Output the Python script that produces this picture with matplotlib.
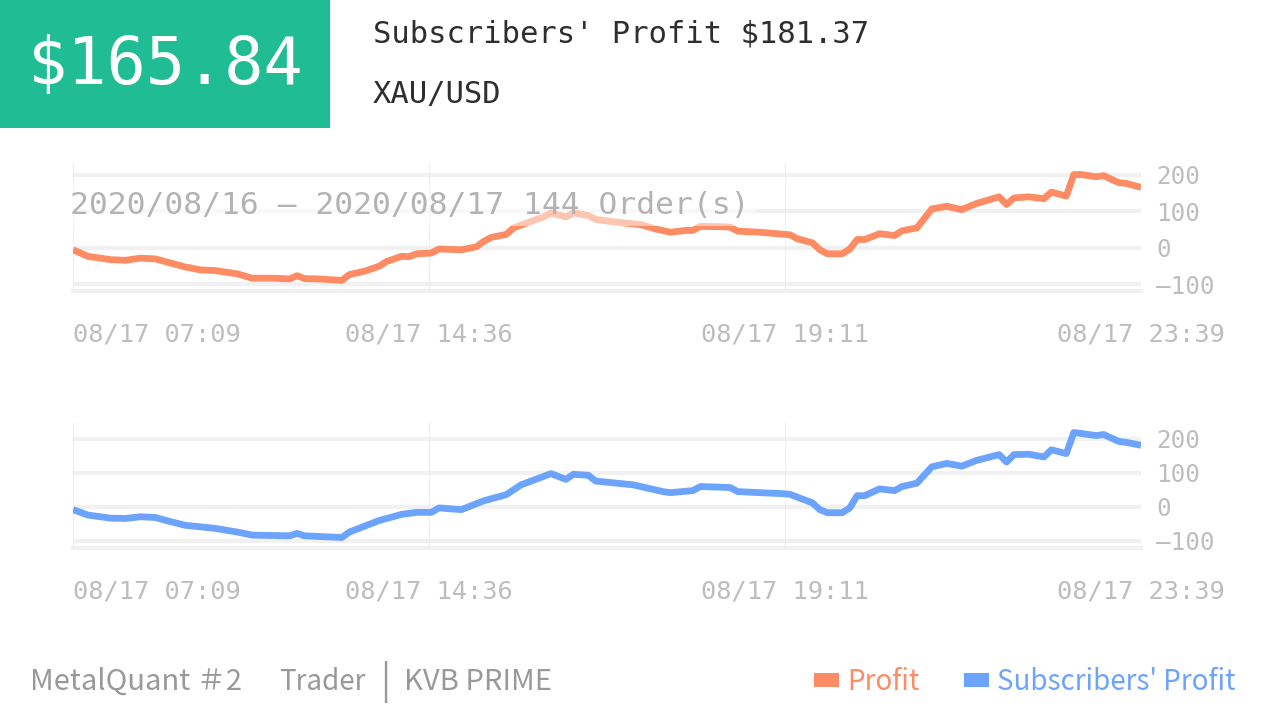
import matplotlib
matplotlib.use("Agg")
import matplotlib.pyplot as plt
from matplotlib.patches import Patch, Rectangle

# order index (0..143) and cumulative profit
profit_idx = [0, 2, 5, 7, 9, 11, 13, 15, 17, 19, 22, 24, 27, 29, 30, 31, 33, 36, 37, 39,
              41, 42, 44, 45, 46, 48, 49, 52, 54, 55, 56, 58, 59, 61, 63, 64, 66, 67, 69, 70,
              73, 76, 78, 80, 82, 83, 84, 87, 88, 89, 92, 96, 97, 99, 100, 101, 103, 104, 105, 106,
              108, 110, 111, 113, 115, 117, 119, 121, 124, 125, 126, 128, 130, 131, 133, 134, 135, 137, 138, 140,
              141, 143]
profit = [-5, -23, -32, -34, -28, -30, -41, -52, -60, -62, -71, -83, -83, -85, -76, -84, -85, -89, -73, -64,
          -50, -37, -23, -24, -16, -14, -3, -5, 3, 18, 29, 37, 55, 70, 85, 96, 85, 96, 89, 78,
          70, 64, 52, 43, 48, 48, 59, 58, 57, 46, 43, 36, 25, 14, -5, -16, -16, -3, 23, 23,
          39, 34, 47, 55, 107, 114, 105, 122, 140, 119, 137, 140, 135, 153, 142, 201, 201, 195, 198, 179,
          177, 165.84]

sub_idx = [0, 2, 5, 7, 9, 11, 13, 15, 19, 22, 24, 29, 30, 31, 36, 37, 41, 44, 46, 48,
           49, 52, 55, 58, 60, 64, 66, 67, 69, 70, 75, 79, 80, 83, 84, 88, 89, 95, 96, 99,
           100, 101, 103, 104, 105, 106, 108, 110, 111, 113, 115, 117, 119, 121, 124, 125, 126, 128, 130, 131,
           133, 134, 135, 137, 138, 140, 141, 143]
sub_profit = [-8, -24, -33, -34, -29, -31, -43, -54, -63, -74, -83, -85, -78, -85, -90, -74, -40, -22, -16, -16,
              -3, -8, 18, 36, 65, 98, 81, 96, 93, 76, 65, 45, 42, 48, 60, 57, 45, 39, 37, 12,
              -8, -17, -17, -3, 33, 33, 53, 48, 60, 70, 118, 128, 120, 137, 154, 132, 154, 155, 147, 168,
              157, 219, 216, 210, 213, 193, 190, 181.37]

n_orders = 144
x_labels = ["08/17 07:09", "08/17 14:36", "08/17 19:11", "08/17 23:39"]
y_ticks = [-100, 0, 100, 200]
y_labels = ["\u2014100", "0", "100", "200"]

ORANGE = "#fd8c64"
BLUE = "#6ca3fd"
GREEN = "#20bc94"
W, H = 1266, 719

fig = plt.figure(figsize=(W / 100, H / 100), dpi=100)
mono = "DejaVu Sans Mono"
narrow = ["Liberation Sans Narrow", "Noto Sans CJK JP", "DejaVu Sans"]


def px_axes(left, top, right, bottom):
    return fig.add_axes([left / W, 1 - bottom / H, (right - left) / W, (bottom - top) / H])


def draw_panel(ax, xs, ys, color):
    ax.plot(xs, ys, color=color, lw=4.9, solid_capstyle="butt", zorder=3)
    lo, hi = min(ys), max(ys)
    pad = (hi - lo) * 0.1
    ax.set_ylim(lo - pad, hi + pad)
    ax.set_xlim(0, n_orders - 1)
    for s in ax.spines.values():
        s.set_visible(False)
    for v in y_ticks:
        ax.axhline(v, color="#f1f1f1", lw=3, zorder=1)
    ax.axhline(lo - pad, color="#f1f1f1", lw=3, zorder=1, clip_on=False)
    xt = [0, (n_orders - 1) / 3, 2 * (n_orders - 1) / 3, n_orders - 1]
    for v in xt:
        ax.axvline(v, color="#eeeeee", lw=0.8, zorder=1)
    ax.set_xticks(xt)
    ax.set_xticklabels(x_labels, fontfamily=mono, fontsize=18.3, color="#bdbdbd")
    lbls = ax.get_xticklabels()
    lbls[0].set_horizontalalignment("left")
    ax.tick_params(axis="x", length=0, pad=23)
    ax.yaxis.tick_right()
    ax.set_yticks(y_ticks)
    ax.set_yticklabels(y_labels, fontfamily=mono, fontsize=17.5, color="#bdbdbd")
    ax.tick_params(axis="y", length=0, pad=11)


ax1 = px_axes(73, 164, 1141, 291)
draw_panel(ax1, profit_idx, profit, ORANGE)
ax2 = px_axes(73, 422, 1141, 548)
draw_panel(ax2, sub_idx, sub_profit, BLUE)

# header
fig.patches.append(Rectangle((0, 1 - 128 / H), 330 / W, 128 / H, transform=fig.transFigure,
                             facecolor=GREEN, edgecolor="none", zorder=0))
fig.text(165 / W, 1 - 66 / H, "$165.84", fontfamily=mono, fontsize=47, color="white",
         ha="center", va="center")
fig.text(373 / W, 1 - 34 / H, "Subscribers' Profit $181.37", fontfamily=mono, fontsize=22,
         color="#2e2e2e", ha="left", va="center")
fig.text(373 / W, 1 - 94 / H, "XAU/USD", fontfamily=mono, fontsize=22,
         color="#2e2e2e", ha="left", va="center")

# period overlay on the first chart
fig.text(70 / W, 1 - 206 / H, "2020/08/16 \u2014 2020/08/17 144 Order(s)", fontfamily=mono,
         fontsize=22.6, color="#b3b3b3", ha="left", va="center", zorder=5,
         bbox=dict(facecolor="white", alpha=0.5, edgecolor="none", pad=4))

# footer
foot_y = 1 - 682 / H
fig.text(30 / W, foot_y, "MetalQuant \uff032", fontfamily=narrow, fontsize=21,
         color="#999999", ha="left", va="center")
fig.text(279 / W, foot_y, "Trader", fontfamily=narrow, fontsize=20,
         color="#999999", ha="left", va="center")
fig.text(385 / W, foot_y, "|", fontfamily=narrow, fontsize=27,
         color="#999999", ha="center", va="center")
fig.text(404 / W, foot_y, "KVB PRIME", fontfamily=narrow, fontsize=21,
         color="#999999", ha="left", va="center")

handles = [Patch(facecolor=ORANGE, edgecolor="none", label="Profit"),
           Patch(facecolor=BLUE, edgecolor="none", label="Subscribers' Profit")]
fig.legend(handles=handles, loc="center right", bbox_to_anchor=(1247 / W, foot_y),
           ncol=2, frameon=False, prop={"family": narrow, "size": 20},
           labelcolor=[ORANGE, BLUE], handlelength=0.9, handleheight=0.35,
           handletextpad=0.3, columnspacing=1.6, borderaxespad=0)

fig.savefig("out.png", dpi=100, facecolor="white")
